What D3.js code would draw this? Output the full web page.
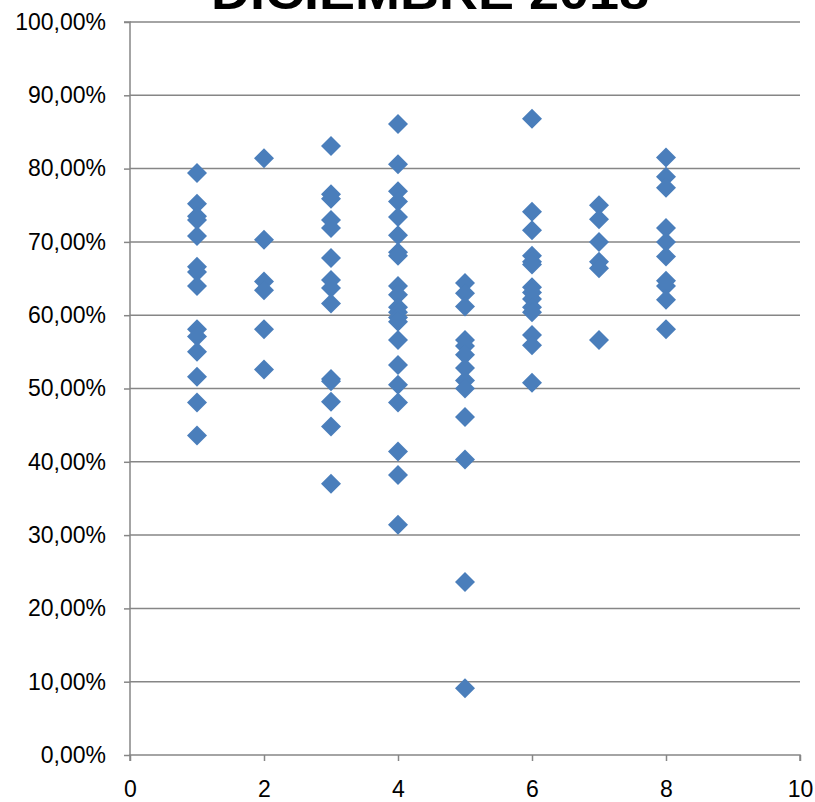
<!DOCTYPE html>
<html>
<head>
<meta charset="utf-8">
<script src="https://cdn.jsdelivr.net/npm/d3@7"></script>
<style>
  html, body { margin: 0; padding: 0; background: #fff; }
  svg { display: block; }
</style>
</head>
<body>
<svg id="chart" width="815" height="802"></svg>
<script>
const chartTitle = "DICIEMBRE 2018";
const xCategories = [1, 2, 3, 4, 5, 6, 7, 8];
const seriesValues = [
  [79.4, 75.2, 73.5, 73.0, 70.8, 66.6, 65.9, 64.0, 58.1, 57.1, 55.0, 51.6, 48.1, 43.6],
  [81.4, 70.3, 64.6, 63.4, 58.1, 52.6],
  [83.1, 76.5, 75.9, 73.0, 71.9, 67.8, 64.8, 63.7, 61.6, 51.3, 51.0, 48.2, 44.8, 37.0],
  [86.1, 80.6, 76.9, 75.5, 73.4, 70.9, 68.6, 68.1, 64.0, 62.8, 61.1, 60.4, 59.7, 59.1, 56.6, 53.2, 50.5, 48.1, 41.4, 38.2, 31.4],
  [64.4, 63.0, 61.2, 56.6, 55.8, 54.6, 52.8, 51.1, 50.0, 46.1, 40.3, 23.6, 9.1],
  [86.8, 74.1, 71.6, 68.1, 67.3, 66.9, 63.8, 63.1, 62.2, 61.1, 60.4, 57.3, 55.9, 50.8],
  [75.0, 73.1, 70.0, 67.3, 66.4, 56.6],
  [81.5, 78.9, 77.4, 71.9, 70.0, 68.0, 64.7, 64.0, 62.1, 58.1]
];
const xTicks = [0, 2, 4, 6, 8, 10];
const yTicks = [0, 10, 20, 30, 40, 50, 60, 70, 80, 90, 100];

(function () {
const points = [];
xCategories.forEach((c, i) => seriesValues[i].forEach(v => points.push({x: c, y: v})));

const svg = d3.select("#chart");
const mLeft = 130, mRight = 800, mTop = 22, mBottom = 755;
const x = d3.scaleLinear().domain([0, 10]).range([mLeft, mRight]);
const y = d3.scaleLinear().domain([0, 100]).range([mBottom, mTop]);

const gridColor = "#868686";
const fontFam = "'Liberation Sans', Arial, sans-serif";

// Title
svg.append("text")
  .attr("x", 430).attr("y", 9)
  .attr("text-anchor", "middle")
  .attr("font-family", fontFam)
  .attr("font-weight", "bold")
  .attr("font-size", 48)
  .attr("textLength", 438)
  .attr("lengthAdjust", "spacingAndGlyphs")
  .attr("fill", "#000")
  .text(chartTitle);

// Gridlines
svg.append("g").selectAll("line").data(yTicks.filter(t => t > 0)).join("line")
  .attr("x1", mLeft).attr("x2", mRight)
  .attr("y1", d => y(d)).attr("y2", d => y(d))
  .attr("stroke", gridColor).attr("stroke-width", 1.5);

// Y axis
const yAxis = d3.axisLeft(y).tickValues(yTicks).tickSize(6).tickPadding(18)
  .tickFormat(d => d3.format(".2f")(d).replace(".", ",") + "%");
const gy = svg.append("g").attr("transform", `translate(${mLeft},0)`).call(yAxis);
gy.select(".domain").attr("stroke", gridColor).attr("stroke-width", 1.5)
  .attr("d", `M-6,${mTop}H0V${mBottom}`);
gy.selectAll(".tick line").attr("stroke", gridColor).attr("stroke-width", 1.5);
gy.selectAll(".tick text").attr("font-family", fontFam).attr("font-size", 23).attr("fill", "#000");

// X axis
const xAxis = d3.axisBottom(x).tickValues(xTicks).tickSize(6).tickPadding(20)
  .tickFormat(d3.format("d"));
const gx = svg.append("g").attr("transform", `translate(0,${mBottom})`).call(xAxis);
gx.select(".domain").attr("stroke", gridColor).attr("stroke-width", 1.5)
  .attr("d", `M${mLeft},6V0H${mRight}V6`);
gx.selectAll(".tick line").attr("stroke", gridColor).attr("stroke-width", 1.5);
gx.selectAll(".tick text").attr("font-family", fontFam).attr("font-size", 23).attr("fill", "#000");

// Points (diamonds)
const diamond = d3.symbol().type(d3.symbolSquare).size(200);
svg.append("g").selectAll("path").data(points).join("path")
  .attr("d", diamond)
  .attr("transform", d => `translate(${x(d.x)},${y(d.y)}) rotate(45)`)
  .attr("fill", "#4A7EBB");
})();
</script>
</body>
</html>
